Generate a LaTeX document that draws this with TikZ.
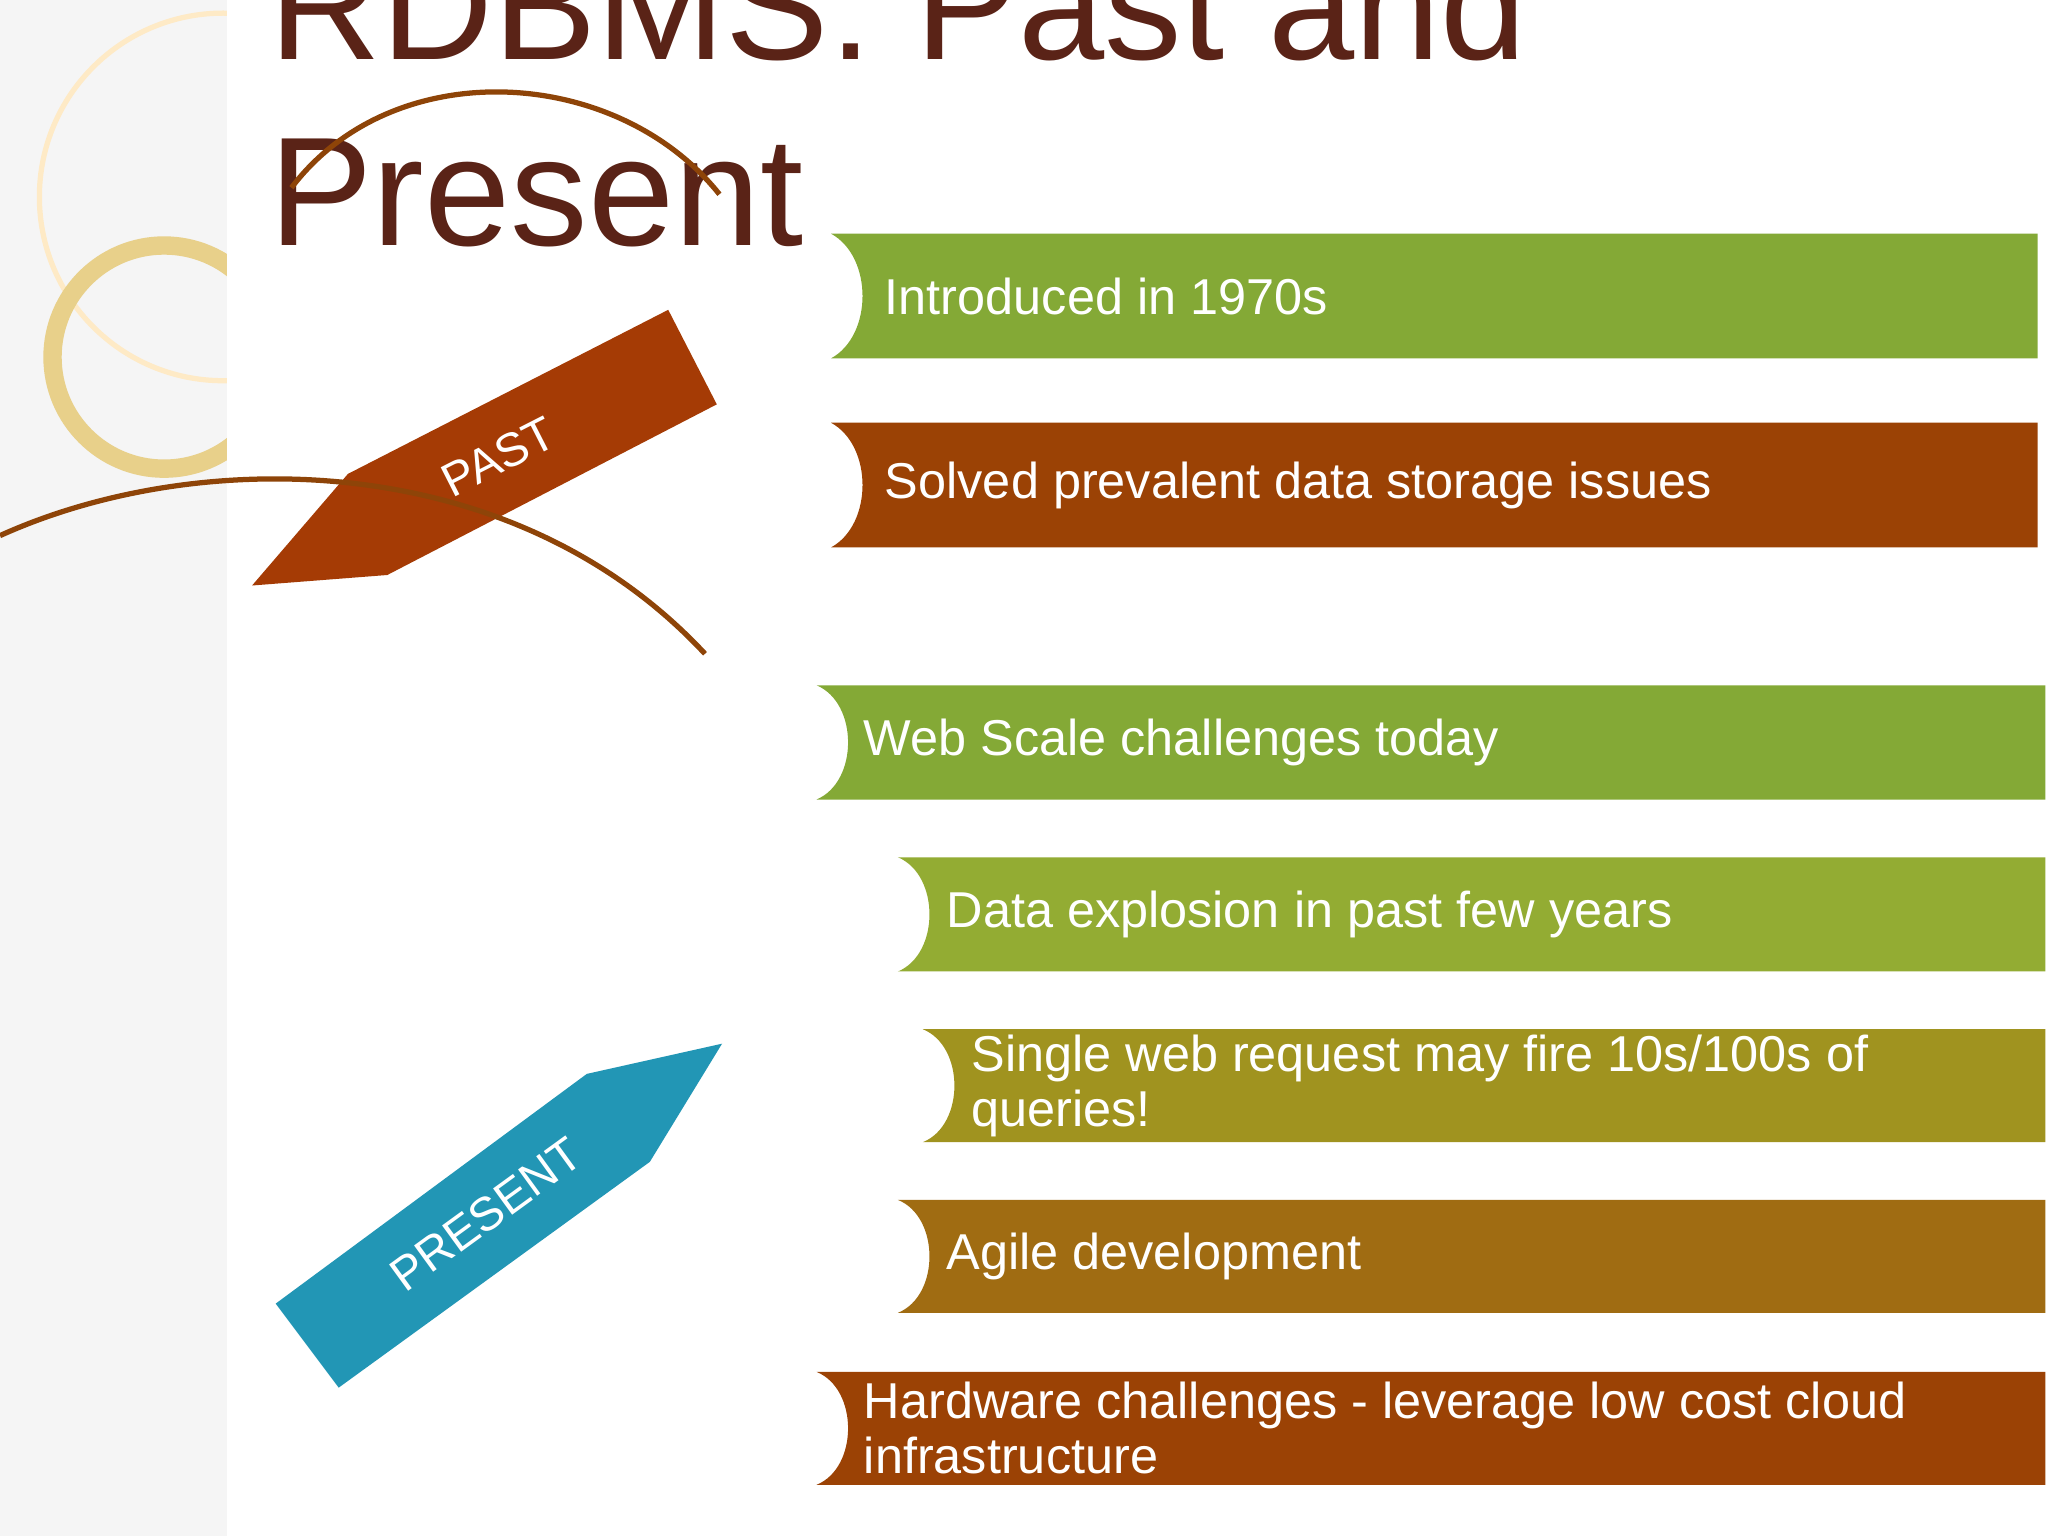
\documentclass[tikz,border=0pt]{standalone}
\usepackage{fontspec}
\setmainfont{Liberation Sans}
\definecolor{tbrown}{HTML}{5A2317}
\definecolor{cgreen}{HTML}{84A936}
\definecolor{crust}{HTML}{9B4205}
\definecolor{cyg}{HTML}{93AC33}
\definecolor{colive}{HTML}{A0931F}
\definecolor{cochre}{HTML}{A06C12}
\definecolor{cteal}{HTML}{2296B5}
\definecolor{carc}{HTML}{8E4408}
\tikzset{bartext/.style={anchor=west,text=white,font=\fontsize{19.2}{21}\selectfont,align=left},
arcline/.style={draw=carc,line width=2pt}}
\newcommand{\mybar}[8]{%
 \fill[#5] (#1,#2) -- (#3,#2) -- (#3,#4) -- (#1,#4) .. controls ({#1+32},{(#2+#4)/2+30}) and ({#1+32},{(#2+#4)/2-30}) .. (#1,#2);
 \node[bartext] (#8) at (#7,{(#2+#4)/2}) {#6};}
\begin{document}
\begin{tikzpicture}[x=0.5pt,y=-0.5pt]
\useasboundingbox (0,0) rectangle (1560,1170);
\clip (0,0) rectangle (1560,1170);
\fill[gray!8] (0,0) rectangle (1560,1170);
\draw[yellow!25!orange!20,line width=2pt] (170,150) circle[radius=140];
\draw[color={rgb,255:red,232;green,208;blue,138},line width=7pt] (125,272) circle[radius=85];
\fill[white] (173,0) rectangle (1560,1170);
\node[anchor=base west,text=tbrown,font=\fontsize{59}{68}\selectfont,inner sep=0] (t1) at (205,45) {RDBMS: Past and};
\node[anchor=base west,text=tbrown,font=\fontsize{59}{68}\selectfont,inner sep=0] (t2) at (205,187) {Present};
\draw[arcline] (222,143) .. controls (300,40) and (470,50) .. (548,148);
\fill[crust!90!red] (192,446) -- (295,438) -- (546,308) -- (509,236) -- (265,361) -- cycle;
\node[text=white,rotate=27,font=\fontsize{18}{20}\selectfont] (past) at (380,348) {PAST};
\draw[arcline] (0,408) .. controls (150,340) and (390,340) .. (537,498);
\fill[cteal] (550,795) -- (447,818) -- (210,993) -- (258,1057) -- (495,885) -- cycle;
\node[text=white,rotate=36,font=\fontsize{18}{20}\selectfont] (present) at (370,925) {PRESENT};
\mybar{633}{178}{1552}{273}{cgreen}{Introduced in 1970s}{667}{b1}
\mybar{633}{322}{1552}{417}{crust}{Solved prevalent data storage issues}{667}{b2}
\mybar{622}{522}{1558}{609}{cgreen}{Web Scale challenges today}{651}{b3}
\mybar{684}{653}{1558}{740}{cyg}{Data explosion in past few years}{714}{b4}
\mybar{703}{784}{1558}{870}{colive}{Single web request may fire 10s/100s of\\queries!}{733}{b5}
\mybar{684}{914}{1558}{1000}{cochre}{Agile development}{714}{b6}
\mybar{622}{1045}{1558}{1131}{crust}{Hardware challenges - leverage low cost cloud\\infrastructure}{651}{b7}
\end{tikzpicture}
\end{document}
